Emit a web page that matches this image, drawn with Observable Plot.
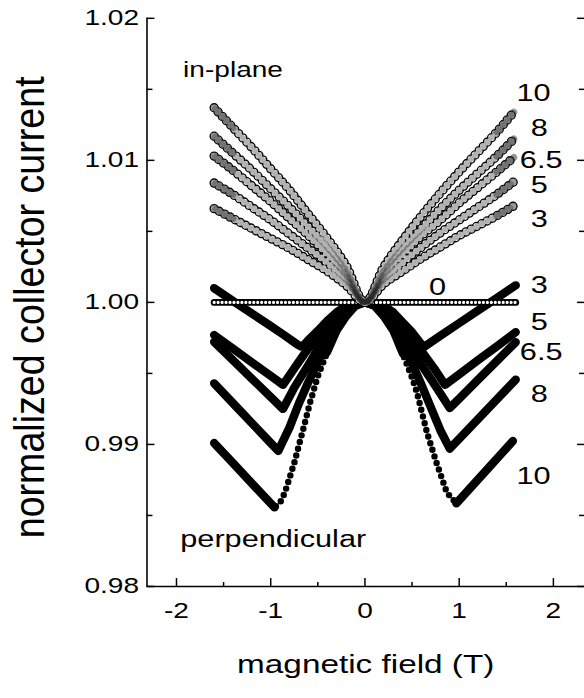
<!DOCTYPE html>
<html><head><meta charset="utf-8">
<script src="https://cdn.jsdelivr.net/npm/d3@7"></script>
<script src="https://cdn.jsdelivr.net/npm/@observablehq/plot@0.6"></script>
<style>html,body{margin:0;padding:0;background:#fff;overflow:hidden;}</style>
</head><body><div id="chart"></div>
<script>
// ---- in-plane sweeps (open circles), common field grid (T)
const fieldsIn = [-1.6,-1.4,-1.2,-1.0,-0.8,-0.6,-0.4,-0.2,0,0.2,0.4,0.6,0.8,1.0,1.2,1.4,1.58];
const inPlane3  = [1.0066,1.0059,1.0052,1.0045,1.0038,1.0030,1.0022,1.0012,1.0000,1.0013,1.0022,1.0031,1.0039,1.0047,1.0054,1.0061,1.0068];
const inPlane5  = [1.0084,1.0076,1.0067,1.0058,1.0048,1.0038,1.0028,1.0016,1.0000,1.0016,1.0028,1.0039,1.0049,1.0058,1.0067,1.0076,1.0085];
const inPlane65 = [1.0103,1.0093,1.0082,1.0071,1.0059,1.0047,1.0034,1.0019,1.0000,1.0019,1.0034,1.0047,1.0058,1.0070,1.0081,1.0092,1.0102];
const inPlane8  = [1.0117,1.0105,1.0093,1.0080,1.0067,1.0053,1.0039,1.0022,1.0000,1.0022,1.0038,1.0052,1.0066,1.0079,1.0091,1.0103,1.0115];
const inPlane10 = [1.0137,1.0123,1.0109,1.0094,1.0079,1.0062,1.0045,1.0026,1.0000,1.0025,1.0044,1.0061,1.0077,1.0092,1.0106,1.0120,1.0134];
const zeroB = [-1.6, 1.6];
const zeroI = [1.0, 1.0];

// ---- perpendicular sweeps (filled circles)
const perpB3 = [-1.6,-1.4,-1.2,-1.0,-0.85,-0.72,-0.68,-0.64,-0.6,-0.5,-0.4,-0.3,-0.2,-0.1,0,0.1,0.2,0.3,0.4,0.5,0.58,0.63,0.8,1.0,1.2,1.4,1.6];
const perpI3 = [1.0010,1.0001,0.99922,0.99833,0.99766,0.99705,0.9969,0.99705,0.99735,0.9980,0.9987,0.9993,0.99975,0.99995,1.0000,0.99995,0.99975,0.9993,0.9986,0.9979,0.9972,0.99688,0.99765,0.99854,0.99943,1.00031,1.0012];
const perpB5 = [-1.6,-1.4,-1.2,-1.0,-0.87,-0.75,-0.64,-0.5,-0.4,-0.3,-0.2,-0.1,0,0.1,0.2,0.3,0.4,0.5,0.63,0.75,0.85,1.0,1.2,1.4,1.6];
const perpI5 = [0.9977,0.99674,0.99578,0.99482,0.9942,0.99535,0.9964,0.9976,0.9984,0.9990,0.9996,0.9999,1.0000,0.9999,0.9996,0.9990,0.9983,0.9975,0.9963,0.9952,0.9942,0.99494,0.99593,0.99691,0.9979];
const perpB65 = [-1.6,-1.4,-1.2,-1.0,-0.87,-0.75,-0.6,-0.5,-0.4,-0.3,-0.2,-0.1,0,0.1,0.2,0.3,0.4,0.5,0.6,0.75,0.9,1.0,1.2,1.4,1.6];
const perpI65 = [0.99721,0.99592,0.99463,0.99334,0.9925,0.9940,0.9956,0.9967,0.9977,0.9987,0.9994,0.99985,1.0000,0.99985,0.9994,0.9987,0.9977,0.9967,0.9956,0.9941,0.99256,0.99322,0.99455,0.99588,0.9972];
const perpB8 = [-1.6,-1.4,-1.2,-1.0,-0.92,-0.8,-0.7,-0.6,-0.5,-0.4,-0.3,-0.2,-0.1,0,0.1,0.2,0.3,0.4,0.5,0.6,0.7,0.8,0.9,1.0,1.2,1.4,1.6];
const perpI8 = [0.9943,0.9929,0.9915,0.9901,0.98954,0.9912,0.9929,0.9944,0.9958,0.9972,0.9984,0.9992,0.9998,1.0000,0.9998,0.9992,0.9984,0.9971,0.9957,0.9942,0.9926,0.9910,0.9897,0.99039,0.99178,0.99317,0.99456];
const perpB10 = [-1.6,-1.4,-1.2,-1.05,-0.96,-0.9,-0.85,-0.75,-0.65,-0.58,-0.5,-0.4,-0.3,-0.2,-0.1,0,0.1,0.2,0.3,0.4,0.5,0.55,0.66,0.76,0.87,0.97,1.1,1.3,1.45,1.57];
const perpI10 = [0.9901,0.98868,0.98726,0.9862,0.98557,0.9859,0.9866,0.9887,0.9912,0.9930,0.9948,0.9965,0.9980,0.9990,0.99975,1.0000,0.99975,0.9990,0.9980,0.9964,0.9947,0.9937,0.9908,0.9887,0.9866,0.98585,0.9868,0.98826,0.98936,0.99024];

// ---- text
const xTickValues = [-2,-1,0,1,2];
const xTickLabels = ["-2","-1","0","1","2"];
const xMinorTicks = [-1.5,-0.5,0.5,1.5];
const yTickValues = [0.98,0.99,1.00,1.01,1.02];
const yTickLabels = ["0.98","0.99","1.00","1.01","1.02"];
const yMinorTicks = [0.985,0.995,1.005,1.015];
const xTitle = "magnetic field (T)";
const yTitle = "normalized collector current";
const sideLabels = ["in-plane","perpendicular"];
const sideB      = [-1.93,-1.96];
const sideI      = [1.0159,0.9828];
const numLabels = ["10","8","6.5","5","3","0","3","5","6.5","8","10"];
const numB      = [1.79,1.85,1.87,1.85,1.85,0.77,1.85,1.85,1.87,1.85,1.79];
const numI      = [1.01420,1.01172,1.00948,1.00767,1.00530,1.00049,1.00063,0.99805,0.99596,0.99296,0.98724];

// ---- build tables
const inSets = [["3",inPlane3],["5",inPlane5],["6.5",inPlane65],["8",inPlane8],["10",inPlane10]];
const inRows = inSets.flatMap(([c, v]) => v.map((I, i) => ({B: fieldsIn[i], I, curve: c})));
const inEnds = inRows.filter(d => Math.abs(d.B) >= 1.4).map(d => ({...d, key: d.curve + (d.B < 0 ? "L" : "R")}));
const zeroRows = zeroB.map((B, i) => ({B, I: zeroI[i]}));
const perpSets = [["3",perpB3,perpI3],["5",perpB5,perpI5],["6.5",perpB65,perpI65],["8",perpB8,perpI8]];
const perpRows = perpSets.flatMap(([c, b, v]) => v.map((I, i) => ({B: b[i], I, curve: c})));
const rows10 = perpB10.map((B, i) => ({B, I: perpI10[i]}));
const leftRows = rows10.filter(d => d.B < 0);
const rightRows = rows10.filter(d => d.B > 0);
const leftMinB = leftRows[d3.minIndex(leftRows, d => d.I)].B;
const rightMinB = rightRows[d3.minIndex(rightRows, d => d.I)].B;
const outer10 = rows10.filter(d => d.B <= leftMinB || d.B >= rightMinB).map(d => ({...d, side: d.B < 0 ? "L" : "R"}));
const top10 = rows10.filter(d => Math.abs(d.B) <= 0.4);
const sideRows = sideLabels.map((t, i) => ({t, B: sideB[i], I: sideI[i]}));
const numRows = numLabels.map((t, i) => ({t, B: numB[i], I: numI[i]}));

const chart = Plot.plot({
  width: 590, height: 698,
  marginLeft: 148, marginRight: 0, marginTop: 18, marginBottom: 106,
  style: {fontFamily: "'Liberation Sans', Arial, Helvetica, sans-serif", fontSize: "21.5px", background: "#fff", color: "#000", overflow: "visible"},
  x: {domain: [-2.313, 2.33], label: null},
  y: {domain: [0.98, 1.02], label: null},
  marks: [
    // perpendicular
    Plot.line(perpRows, {x: "B", y: "I", z: "curve", stroke: "#000", strokeWidth: 8.5, strokeLinejoin: "round", strokeLinecap: "round"}),
    Plot.line(rows10, {x: "B", y: "I", stroke: "#000", strokeWidth: 6.5, strokeLinecap: "round", strokeDasharray: "0 7"}),
    Plot.line(top10, {x: "B", y: "I", stroke: "#000", strokeWidth: 8, strokeLinecap: "round", strokeLinejoin: "round"}),
    Plot.line(outer10, {x: "B", y: "I", z: "side", stroke: "#000", strokeWidth: 8.5, strokeLinejoin: "round", strokeLinecap: "round"}),
    // zero in-plane
    Plot.line(zeroRows, {x: "B", y: "I", stroke: "#000", strokeWidth: 7}),
    Plot.line(zeroRows, {x: "B", y: "I", stroke: "#fff", strokeWidth: 3.2, strokeLinecap: "round", strokeDasharray: "0 4"}),
    // in-plane open circles
    Plot.line(inRows, {x: "B", y: "I", z: "curve", curve: "catmull-rom", stroke: "#000", strokeWidth: 9.5, strokeLinecap: "round", strokeDasharray: "0 6"}),
    Plot.line(inRows, {x: "B", y: "I", z: "curve", curve: "catmull-rom", stroke: "#fff", strokeWidth: 6.8, strokeLinecap: "round", strokeDasharray: "0 6"}),
    Plot.line(inRows, {x: "B", y: "I", z: "curve", curve: "catmull-rom", stroke: "#000", strokeWidth: 6.8, strokeOpacity: 0.3, strokeDasharray: "0.8 5.2", strokeDashoffset: -1.6}),
    Plot.line(inEnds, {x: "B", y: "I", z: "key", curve: "catmull-rom", stroke: "#333", strokeWidth: 7, strokeOpacity: 0.5, strokeLinecap: "round"}),
    // frame lines
    Plot.ruleX([-2.313], {stroke: "#000", strokeWidth: 1.6}),
    Plot.ruleY([0.98], {stroke: "#000", strokeWidth: 1.6}),
    // ticks (inward)
    Plot.axisX({ticks: xTickValues, tickSize: 8, dy: -8, tickFormat: () => "", label: null, strokeWidth: 1.5}),
    Plot.axisX({ticks: xMinorTicks, tickSize: 4, dy: -4, tickFormat: () => "", label: null, strokeWidth: 1.5}),
    Plot.axisY({ticks: yTickValues, anchor: "left", tickSize: 8, dx: 8, tickFormat: () => "", label: null, strokeWidth: 1.5}),
    Plot.axisY({ticks: yMinorTicks, anchor: "left", tickSize: 6, dx: 6, tickFormat: () => "", label: null, strokeWidth: 1.5}),
    Plot.axisY({ticks: yTickValues, anchor: "right", tickSize: 8, dx: -8, tickFormat: () => "", label: null, strokeWidth: 1.5}),
    Plot.axisY({ticks: yMinorTicks, anchor: "right", tickSize: 6, dx: -6, tickFormat: () => "", label: null, strokeWidth: 1.5}),
    // tick labels
    Plot.axisX({ticks: xTickValues, tickSize: 0, tickPadding: 17, tickFormat: (d, i) => xTickLabels[i], label: null}),
    Plot.axisY({ticks: yTickValues, anchor: "left", tickSize: 0, tickPadding: 8, tickFormat: (d, i) => yTickLabels[i], label: null}),
    // titles
    Plot.text([xTitle], {frameAnchor: "bottom", dy: 87, lineAnchor: "bottom", textAnchor: "middle", fontSize: "25.5px", text: d => d}),
    Plot.text([yTitle], {frameAnchor: "left", dx: -118, dy: 5, rotate: -90, textAnchor: "middle", lineAnchor: "middle", fontSize: "38px", text: d => d}),
    // annotations
    Plot.text(sideRows.slice(0, 1), {x: "B", y: "I", text: "t", textAnchor: "start", lineAnchor: "bottom", fontSize: "21.5px"}),
    Plot.text(sideRows.slice(1), {x: "B", y: "I", text: "t", textAnchor: "start", lineAnchor: "bottom", fontSize: "23.5px"}),
    Plot.text(numRows, {x: "B", y: "I", text: "t", textAnchor: "middle", lineAnchor: "bottom", fontSize: "23.5px"})
  ]
});
document.getElementById("chart").appendChild(chart);

// horizontal stretch of the glyphs, as in the reference artwork
const SX = 1.32, SXR = 1.12;
chart.querySelectorAll("text").forEach(t => {
  const tr = t.getAttribute("transform") || "";
  const x = +(t.getAttribute("x") || 0);
  if (/rotate\(-?90\)/.test(tr)) {
    t.setAttribute("transform", `${tr} scale(1,${SXR})`);
  } else {
    t.setAttribute("transform", `${tr} translate(${x},0) scale(${SX},1) translate(${-x},0)`);
  }
});
</script>
</body></html>
